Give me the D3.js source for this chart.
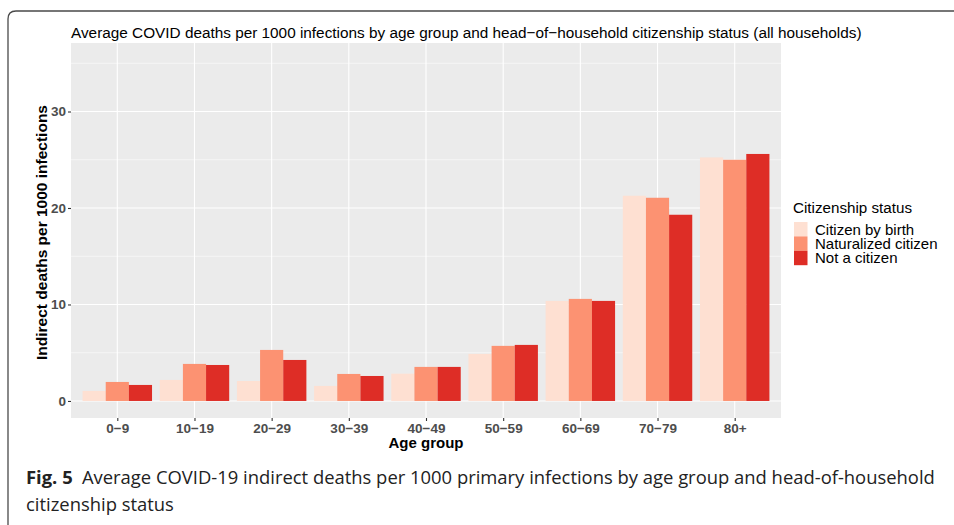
<!DOCTYPE html>
<html><head><meta charset="utf-8">
<script src="https://cdn.jsdelivr.net/npm/d3@7"></script>
<style>body{margin:0;background:#fff;} svg{display:block;}</style>
</head><body>
<svg id="chart" width="954" height="525"></svg>
<script>
const ageGroups = ["0\u22129","10\u221219","20\u221229","30\u221239","40\u221249","50\u221259","60\u221269","70\u221279","80+"];
const seriesNames = ["Citizen by birth","Naturalized citizen","Not a citizen"];
const citizenByBirth = [1.04, 2.18, 2.07, 1.56, 2.83, 4.88, 10.37, 21.27, 25.24];
const naturalized   = [1.97, 3.84, 5.29, 2.80, 3.53, 5.71, 10.58, 21.06, 25.00];
const notCitizen    = [1.66, 3.73, 4.25, 2.59, 3.53, 5.81, 10.37, 19.30, 25.60];
const yTicks = [0, 10, 20, 30];
const yMinor = [5, 15, 25, 35];
const colors = ["#FEE0D2", "#FC9272", "#DE2D26"];
const titleText = "Average COVID deaths per 1000 infections by age group and head\u2212of\u2212household citizenship status (all households)";

const seriesVals = [citizenByBirth, naturalized, notCitizen];
const svg = d3.select("#chart");
const P = {l: 71, r: 781, t: 43, b: 418};
const font = "'Liberation Sans', Arial, Helvetica, sans-serif";

// frame
svg.append("path")
  .attr("d", `M8,525 L8,19 Q8,11 16,11 L954,11`)
  .attr("fill", "none").attr("stroke", "#4a4a4a").attr("stroke-width", 1.3);

// ggplot-like discrete scale: centers at l + (i+0.6)*unit
const unit = (P.r - P.l) / 9.2;
const xs = d3.scalePoint().domain(ageGroups).range([P.l + 0.6 * unit, P.r - 0.6 * unit]);
const x1 = d3.scaleBand().domain(seriesNames).range([-0.45 * unit, 0.45 * unit]).padding(0);
const y = d3.scaleLinear().domain([-1.765, 37.1]).range([P.b, P.t]);

svg.append("rect").attr("x", P.l).attr("y", P.t).attr("width", P.r - P.l).attr("height", P.b - P.t).attr("fill", "#EBEBEB");

const g = svg.append("g");
g.selectAll(".minor").data(yMinor).join("line")
  .attr("x1", P.l).attr("x2", P.r).attr("y1", d => y(d)).attr("y2", d => y(d))
  .attr("stroke", "#fff").attr("stroke-width", 0.55);
g.selectAll(".major").data(yTicks).join("line")
  .attr("x1", P.l).attr("x2", P.r).attr("y1", d => y(d)).attr("y2", d => y(d))
  .attr("stroke", "#fff").attr("stroke-width", 1.1);
g.selectAll(".vmajor").data(ageGroups).join("line")
  .attr("x1", d => xs(d)).attr("x2", d => xs(d)).attr("y1", P.t).attr("y2", P.b)
  .attr("stroke", "#fff").attr("stroke-width", 1.1);

// bars
const groups = svg.append("g").selectAll("g").data(ageGroups).join("g")
  .attr("transform", d => `translate(${xs(d)},0)`);
groups.selectAll("rect").data((d, i) => seriesNames.map((s, j) => ({s, v: seriesVals[j][i], j})))
  .join("rect")
  .attr("x", d => x1(d.s)).attr("width", x1.bandwidth())
  .attr("y", d => y(Math.max(0, d.v))).attr("height", d => Math.abs(y(d.v) - y(0)))
  .attr("fill", d => colors[d.j]);

// axes
const yAxis = d3.axisLeft(y).tickValues(yTicks).tickSize(3).tickPadding(2);
const ya = svg.append("g").attr("transform", `translate(${P.l},0)`).call(yAxis);
ya.select(".domain").remove();
ya.selectAll(".tick line").attr("stroke", "#333").attr("stroke-width", 1.1);
ya.selectAll(".tick text").attr("fill", "#4D4D4D").style("font-family", font)
  .style("font-weight", "bold").style("font-size", "13.5px");

const xAxis = d3.axisBottom(xs).tickSize(3).tickPadding(2);
const xa = svg.append("g").attr("transform", `translate(0,${P.b})`).call(xAxis);
xa.select(".domain").remove();
xa.selectAll(".tick line").attr("stroke", "#333").attr("stroke-width", 1.1);
xa.selectAll(".tick text").attr("fill", "#4D4D4D").style("font-family", font)
  .style("font-weight", "bold").style("font-size", "13.5px");

// titles
const title = svg.append("text").attr("x", P.l).attr("y", 38).text(titleText)
  .style("font-family", font).style("font-size", "14.5px").attr("fill", "#000");
const tw = title.node().getComputedTextLength();
title.style("font-size", (14.5 * 791 / tw) + "px");

svg.append("text").attr("transform", `translate(47,${(P.t + P.b) / 2 + 2}) rotate(-90)`)
  .attr("text-anchor", "middle").text("Indirect deaths per 1000 infections")
  .style("font-family", font).style("font-weight", "bold").style("font-size", "15.5px").attr("fill", "#000");
svg.append("text").attr("x", (P.l + P.r) / 2).attr("y", 448).attr("text-anchor", "middle")
  .text("Age group").style("font-family", font).style("font-weight", "bold").style("font-size", "15px").attr("fill", "#000");

// legend
const lg = svg.append("g").attr("transform", "translate(793,0)");
lg.append("text").attr("x", 0).attr("y", 213).text("Citizenship status")
  .style("font-family", font).style("font-size", "15.2px").attr("fill", "#000");
seriesNames.forEach((s, j) => {
  lg.append("rect").attr("x", 1).attr("y", 222 + j * 14.4).attr("width", 13.5).attr("height", 14.4).attr("fill", colors[j]);
  lg.append("text").attr("x", 22).attr("y", 234.5 + j * 14.4).text(s)
    .style("font-family", font).style("font-size", "15px").attr("fill", "#000");
});

// caption: fit natural width to the reference line length
const capFont = `'Open Sans', ${font}`;
const cap = svg.append("text").attr("x", 26).attr("y", 484)
  .style("font-family", capFont).style("font-size", "19px").attr("fill", "#222");
cap.append("tspan").style("font-weight", "bold").text("Fig. 5");
cap.append("tspan").text("\u2002Average COVID-19 indirect deaths per 1000 primary infections by age group and head-of-household");
const w = cap.node().getComputedTextLength();
const fs = Math.min(19, 19 * 910 / w);
cap.style("font-size", fs + "px");
svg.append("text").attr("x", 26).attr("y", 511).text("citizenship status")
  .style("font-family", capFont).style("font-size", fs + "px").attr("fill", "#222");
</script>
</body></html>
